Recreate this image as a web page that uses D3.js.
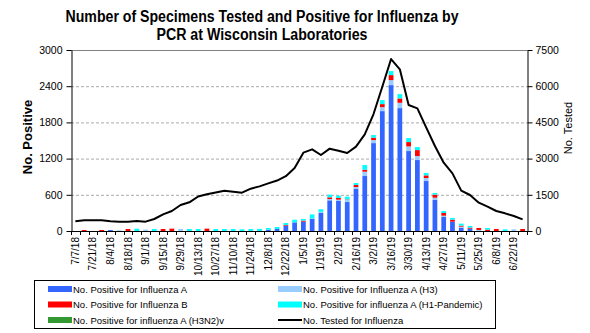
<!DOCTYPE html>
<html>
<head>
<meta charset="utf-8">
<script src="https://cdn.jsdelivr.net/npm/d3@7"></script>
<style>
  body { margin: 0; background: #fff; }
  svg { font-family: Arial, "Liberation Sans", sans-serif; }
</style>
</head>
<body>
<div class="chart"></div>
<script>
// week ending dates, 2018-19 season
const weeks = [
  "7/7/18", "7/14/18", "7/21/18", "7/28/18", "8/4/18", "8/11/18", "8/18/18", "8/25/18",
  "9/1/18", "9/8/18", "9/15/18", "9/22/18", "9/29/18", "10/6/18", "10/13/18", "10/20/18",
  "10/27/18", "11/3/18", "11/10/18", "11/17/18", "11/24/18", "12/1/18", "12/8/18", "12/15/18",
  "12/22/18", "12/29/18", "1/5/19", "1/12/19", "1/19/19", "1/26/19", "2/2/19", "2/9/19",
  "2/16/19", "2/23/19", "3/2/19", "3/9/19", "3/16/19", "3/23/19", "3/30/19", "4/6/19",
  "4/13/19", "4/20/19", "4/27/19", "5/4/19", "5/11/19", "5/18/19", "5/25/19", "6/1/19",
  "6/8/19", "6/15/19", "6/22/19", "6/29/19"
];

const fluA = [
  0, 0, 0, 0, 17, 0, 0, 0, 0, 0, 0, 0, 0, 0, 0, 0,
  0, 0, 0, 0, 0, 0, 22, 33, 88, 143, 155, 204, 300, 508, 497, 480,
  701, 911, 1457, 1987, 2418, 2037, 1325, 1176, 828, 519, 237, 155, 55, 39, 0, 0,
  0, 0, 0, 0
];
const fluAH3 = [
  0, 0, 0, 0, 0, 12, 0, 0, 22, 0, 0, 0, 33, 0, 0, 0,
  0, 0, 0, 0, 0, 0, 0, 0, 0, 0, 0, 5, 17, 22, 22, 39,
  28, 72, 50, 66, 83, 88, 77, 66, 50, 33, 17, 0, 17, 0, 17, 0,
  0, 0, 28, 0
];
const fluB = [
  0, 17, 0, 17, 0, 0, 33, 0, 0, 0, 33, 39, 0, 0, 0, 39,
  0, 0, 0, 0, 0, 0, 0, 0, 11, 0, 17, 0, 0, 28, 28, 6,
  33, 33, 39, 50, 83, 72, 72, 99, 44, 50, 44, 33, 17, 17, 33, 22,
  33, 0, 0, 33
];
const fluAH1 = [
  0, 0, 0, 0, 0, 0, 0, 39, 0, 33, 0, 0, 0, 33, 33, 0,
  33, 33, 33, 28, 33, 35, 28, 33, 33, 44, 28, 66, 44, 44, 39, 44,
  33, 77, 44, 66, 66, 72, 66, 50, 39, 28, 33, 28, 33, 28, 0, 28,
  0, 28, 0, 0
];
const fluAH3N2v = [
  0, 0, 0, 0, 0, 0, 0, 0, 0, 0, 0, 0, 0, 0, 0, 0,
  0, 0, 0, 0, 0, 0, 0, 0, 0, 0, 0, 0, 0, 0, 0, 0,
  0, 0, 0, 0, 0, 0, 0, 0, 0, 0, 0, 0, 0, 0, 0, 0,
  0, 0, 0, 0
];
const tested = [
  400, 442, 442, 442, 400, 387, 387, 414, 387, 497, 690, 829, 1077, 1188, 1430, 1519,
  1595, 1671, 1630, 1588, 1754, 1850, 1975, 2090, 2270, 2610, 3245, 3383, 3149, 3411, 3328, 3232,
  3494, 4005, 4847, 5980, 7126, 6698, 5220, 5082, 4295, 3522, 2831, 2389, 1671, 1491, 1174, 1008,
  829, 732, 621, 483
];

const leftTicks = [0, 600, 1200, 1800, 2400, 3000];
const rightTicks = [0, 1500, 3000, 4500, 6000, 7500];

const series = [
  { key: "A", name: "No. Positive for Influenza A", values: fluA, color: "#3366ff" },
  { key: "H3", name: "No. Positive for Influenza A (H3)", values: fluAH3, color: "#99ccff" },
  { key: "B", name: "No. Positive for Influenza B", values: fluB, color: "#ff0000" },
  { key: "H1", name: "No. Positive for influenza A (H1-Pandemic)", values: fluAH1, color: "#00ffff" },
  { key: "H3N2v", name: "No. Positive for influenza A (H3N2)v", values: fluAH3N2v, color: "#339933" }
];

const W = 590, H = 333;
const plot = { left: 71, right: 527, top: 50, bottom: 231 };

const svg = d3.select(".chart").append("svg")
  .attr("width", W)
  .attr("height", H);

// title
const title = svg.append("g")
  .attr("font-weight", "bold")
  .attr("font-size", 16)
  .attr("text-anchor", "middle");
title.append("text").attr("x", 262).attr("y", 22)
  .attr("textLength", 393).attr("lengthAdjust", "spacingAndGlyphs")
  .text("Number of Specimens Tested and Positive for Influenza by");
title.append("text").attr("x", 262).attr("y", 40)
  .attr("textLength", 211).attr("lengthAdjust", "spacingAndGlyphs")
  .text("PCR at Wisconsin Laboratories");

const x = d3.scaleBand()
  .domain(weeks)
  .range([plot.left, plot.right])
  .paddingInner(0.46)
  .paddingOuter(0.23);

const yLeft = d3.scaleLinear().domain([0, 3000]).range([plot.bottom, plot.top]);
const yRight = d3.scaleLinear().domain([0, 7500]).range([plot.bottom, plot.top]);

// gridlines
svg.append("g")
  .selectAll("line")
  .data(leftTicks.filter(d => d > 0 && d < 3000))
  .join("line")
  .attr("x1", plot.left).attr("x2", plot.right)
  .attr("y1", d => yLeft(d) + 0.5).attr("y2", d => yLeft(d) + 0.5)
  .attr("stroke", "#aaa")
  .attr("stroke-dasharray", "3,2");

svg.append("line")
  .attr("x1", plot.left).attr("x2", plot.right)
  .attr("y1", plot.top + 0.5).attr("y2", plot.top + 0.5)
  .attr("stroke", "#808080");

// stacked bars
const table = weeks.map((w, i) => {
  const row = { week: w };
  series.forEach(s => { row[s.key] = s.values[i]; });
  return row;
});
const stack = d3.stack().keys(series.map(s => s.key))(table);

svg.append("g")
  .selectAll("g")
  .data(stack)
  .join("g")
  .attr("fill", (d, i) => series[i].color)
  .selectAll("rect")
  .data(d => d)
  .join("rect")
  .attr("x", d => x(d.data.week))
  .attr("y", d => yLeft(d[1]))
  .attr("width", x.bandwidth())
  .attr("height", d => yLeft(d[0]) - yLeft(d[1]));

// tested line
const line = d3.line()
  .x((d, i) => x(weeks[i]) + x.bandwidth() / 2)
  .y(d => yRight(d));

svg.append("path")
  .datum(tested)
  .attr("fill", "none")
  .attr("stroke", "#000")
  .attr("stroke-width", 2)
  .attr("stroke-linejoin", "round")
  .attr("d", line);

// axes
const leftAxis = svg.append("g")
  .attr("transform", "translate(" + (plot.left + 0.5) + ",0)")
  .call(d3.axisLeft(yLeft).tickValues(leftTicks).tickFormat(d3.format("d"))
    .tickSize(5).tickPadding(4).tickSizeOuter(0));
const rightAxis = svg.append("g")
  .attr("transform", "translate(" + (plot.right + 0.5) + ",0)")
  .call(d3.axisRight(yRight).tickValues(rightTicks).tickFormat(d3.format("d"))
    .tickSize(5).tickPadding(3).tickSizeOuter(0));
[leftAxis, rightAxis].forEach(g => {
  g.selectAll("text").attr("font-size", 10.5).attr("font-family", "Arial, 'Liberation Sans', sans-serif").attr("fill", "#000");
  g.selectAll("line, path").attr("stroke", "#000");
});

// category axis: ticks between weeks, labels every other week
const step = x.step();
const bottom = svg.append("g");
bottom.append("line")
  .attr("x1", plot.left).attr("x2", plot.right + 1)
  .attr("y1", plot.bottom + 0.5).attr("y2", plot.bottom + 0.5)
  .attr("stroke", "#000");
bottom.selectAll(".tick")
  .data(d3.range(weeks.length + 1))
  .join("line")
  .attr("x1", i => Math.round(plot.left + i * step) + 0.5)
  .attr("x2", i => Math.round(plot.left + i * step) + 0.5)
  .attr("y1", plot.bottom).attr("y2", plot.bottom + 4)
  .attr("stroke", "#000");
bottom.selectAll("text")
  .data(weeks.filter((d, i) => i % 2 === 0))
  .join("text")
  .attr("transform", d => "translate(" + (x(d) + x.bandwidth() / 2 + 3.5) + "," + (plot.bottom + 6) + ") rotate(-90)")
  .attr("text-anchor", "end")
  .attr("font-size", 10)
  .text(d => d);

// axis titles
svg.append("text")
  .attr("transform", "translate(32,137) rotate(-90)")
  .attr("text-anchor", "middle")
  .attr("font-weight", "bold")
  .attr("font-size", 13)
  .text("No. Positive");
svg.append("text")
  .attr("transform", "translate(572,128) rotate(-90)")
  .attr("text-anchor", "middle")
  .attr("font-size", 11)
  .text("No. Tested");

// legend
const legend = svg.append("g");
legend.append("rect")
  .attr("x", 34.5).attr("y", 280.5)
  .attr("width", 461).attr("height", 48)
  .attr("fill", "none")
  .attr("stroke", "#000");

const legendItems = [
  series[0], series[1], series[2], series[3], series[4],
  { name: "No. Tested for Influenza", color: "#000", line: true }
];
const rowY = [289, 304.5, 320];
const colX = [48, 278];

const item = legend.selectAll(".item")
  .data(legendItems)
  .join("g")
  .attr("transform", (d, i) => "translate(" + colX[i % 2] + "," + rowY[Math.floor(i / 2)] + ")");
item.filter(d => !d.line).append("rect")
  .attr("x", 0).attr("y", -3).attr("width", 24).attr("height", 6)
  .attr("fill", d => d.color);
item.filter(d => d.line).append("line")
  .attr("x1", 0).attr("x2", 24).attr("y1", 0).attr("y2", 0)
  .attr("stroke", "#000").attr("stroke-width", 2);
item.append("text")
  .attr("x", 25).attr("y", 3.5)
  .attr("font-size", 9.5)
  .text(d => d.name);
</script>
</body>
</html>
